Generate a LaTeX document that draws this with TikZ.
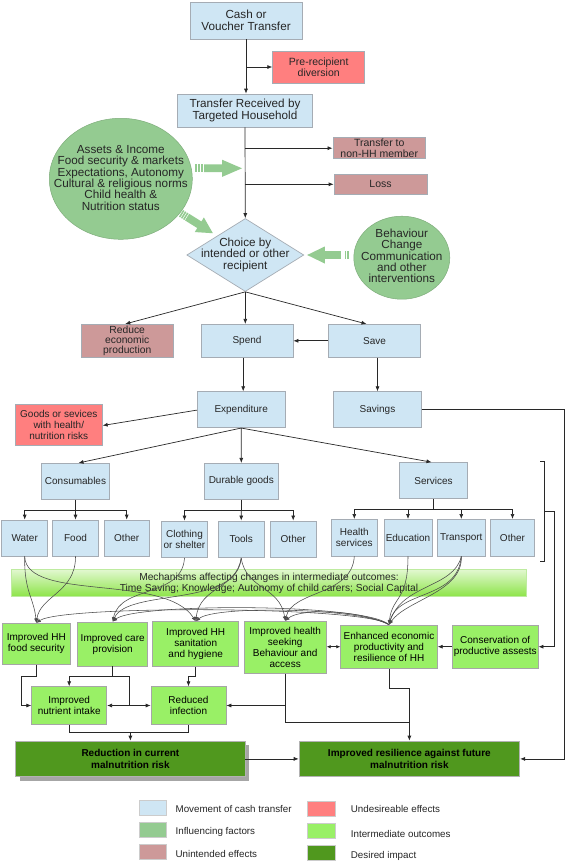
\documentclass[tikz,border=0pt]{standalone}
\usepackage{fontspec}
\setmainfont{Liberation Sans}
\usetikzlibrary{arrows.meta,shapes.geometric,shadows}
\definecolor{cblue}{RGB}{207,230,244}
\definecolor{cred}{RGB}{255,127,127}
\definecolor{cpink}{RGB}{205,153,153}
\definecolor{cinf}{RGB}{148,203,145}
\definecolor{cint}{RGB}{153,240,102}
\definecolor{cdes}{RGB}{80,152,30}
\definecolor{cbord}{RGB}{165,172,180}
\definecolor{cline}{RGB}{40,40,40}
\definecolor{ccurve}{RGB}{75,75,75}
\tikzset{
 bx/.style={draw=cbord, line width=0.7pt, inner sep=0pt, align=center, text=black!85},
 bluebox/.style={bx, fill=cblue},
 redbox/.style={bx, fill=cred},
 pinkbox/.style={bx, fill=cpink},
 outbox/.style={bx, fill=cint, draw=black!35, text=black},
 impbox/.style={bx, fill=cdes, draw=black!30, text=black, font=\fontsize{10}{11.6}\selectfont\bfseries},
 fbig/.style={font=\fontsize{11.7}{11.4}\selectfont},
 fmid/.style={font=\fontsize{10.5}{10.5}\selectfont},
 fsm/.style={font=\fontsize{10}{11}\selectfont},
 arr/.style={draw=cline, line width=0.7pt, -{Latex[length=5pt,width=4pt]}},
 ln/.style={draw=cline, line width=0.7pt},
 crv/.style={draw=ccurve, line width=0.55pt, -{Latex[length=4.5pt,width=3.6pt]}},
 dbl/.style={draw=cline, line width=0.7pt, {Latex[length=4pt,width=3.5pt]}-{Latex[length=4pt,width=3.5pt]}},
 swatch/.style={draw=black!20, line width=0.6pt, minimum width=27.5pt, minimum height=15pt, inner sep=0pt},
 lgtxt/.style={font=\fontsize{9.8}{11}\selectfont, anchor=west, inner sep=0pt, text=black!85},
}
\newcommand{\fatarrow}[5]{%
 \begin{scope}[shift={(#1,#2)}, rotate=#3, xscale=#5]
  \fill[cinf] (9,-3.9) -- (27,-3.9) -- (27,-8.6) -- (47,0) -- (27,8.6) -- (27,3.9) -- (9,3.9) -- cycle;
  \foreach \s in {1,...,#4} {\fill[cinf] ({3*\s-3},-3.9) rectangle ++(2,7.8);}
 \end{scope}}
\begin{document}
\begin{tikzpicture}[x=1pt,y=-1pt]
\fill[white] (0,0) rectangle (567,863);
\useasboundingbox (0,0) rectangle (567,863);

% top flow
\node[bluebox,fbig,minimum width=112pt,minimum height=37pt] (cash) at (246,20.5) {Cash or\\Voucher Transfer};
\node[redbox,fmid,minimum width=92pt,minimum height=32pt] (pre) at (318.7,67) {Pre-recipient\\diversion};
\node[bluebox,fbig,minimum width=134.6pt,minimum height=33pt] (recv) at (245,110.5) {Transfer Received by\\Targeted Household};
\node[pinkbox,fmid,minimum width=92.7pt,minimum height=21pt] (nonhh) at (379.3,148.2) {Transfer to\\non-HH member};
\node[pinkbox,fmid,minimum width=93pt,minimum height=19.3pt] (loss) at (380.5,184.3) {Loss};

\node[ellipse, fill=cinf, draw=cinf!85!black, line width=0.5pt, minimum width=143pt, minimum height=121pt, inner sep=0pt] (infl) at (120.8,178.8) {};
\node[fbig, align=center, text=black!85] (infltxt) at (120.8,177.8) {Assets \& Income\\Food security \& markets\\Expectations, Autonomy\\Cultural \& religious norms\\Child health \&\\Nutrition status};

\node[diamond, fill=cblue, draw=cbord, line width=0.7pt, minimum width=117pt, minimum height=73pt, inner sep=0pt] (choice) at (245.3,255) {};
\node[fbig, align=center, text=black!85] (choicetxt) at (245.3,254.7) {Choice by\\intended or other\\recipient};

\node[ellipse, fill=cinf, draw=cinf!85!black, line width=0.5pt, minimum width=96pt, minimum height=83pt, inner sep=0pt] (bcc) at (401.8,257.7) {};
\node[fbig, align=center, text=black!85] (bcctxt) at (401.8,256) {Behaviour\\Change\\Communication\\and other\\interventions};

\fatarrow{195}{168.3}{0}{3}{1}
\fatarrow{181}{213.3}{-32}{3}{0.8}
\fatarrow{349}{255}{180}{2}{0.89}

\node[pinkbox,font=\fontsize{10.3}{10}\selectfont,minimum width=92.3pt,minimum height=33pt] (reduce) at (127.2,340.8) {Reduce\\economic\\production};
\node[bluebox,fsm,minimum width=92pt,minimum height=33pt] (spend) at (247,340.8) {Spend};
\node[bluebox,fsm,minimum width=92.4pt,minimum height=33pt] (save) at (374.5,340.8) {Save};
\node[bluebox,fsm,minimum width=87.7pt,minimum height=36pt] (expend) at (241.2,409.7) {Expenditure};
\node[bluebox,fsm,minimum width=87.6pt,minimum height=36pt] (savings) at (377.5,409.7) {Savings};
\node[redbox,fsm,minimum width=87pt,minimum height=41pt] (goods) at (58.8,424.5) {Goods or sevices\\with health/\\nutrition risks};

\node[bluebox,fsm,minimum width=67.6pt,minimum height=36pt] (cons) at (75.5,481.3) {Consumables};
\node[bluebox,fsm,minimum width=74pt,minimum height=36pt] (dur) at (241.3,481.3) {Durable goods};
\node[bluebox,fsm,minimum width=67.6pt,minimum height=36pt] (serv) at (433.5,480.5) {Services};

\node[bluebox,fsm,minimum width=46pt,minimum height=36pt] (water) at (24.7,538) {Water};
\node[bluebox,fsm,minimum width=45.6pt,minimum height=36pt] (food) at (75.5,538) {Food};
\node[bluebox,fsm,minimum width=45.3pt,minimum height=36pt] (oth1) at (126.7,538) {Other};
\node[bluebox,fsm,minimum width=45.6pt,minimum height=36.7pt] (cloth) at (184.5,539.3) {Clothing\\or shelter};
\node[bluebox,fsm,minimum width=45.7pt,minimum height=36.7pt] (tools) at (241.2,539.3) {Tools};
\node[bluebox,fsm,minimum width=46.3pt,minimum height=36.7pt] (oth2) at (293.2,539.3) {Other};
\node[bluebox,fsm,minimum width=46pt,minimum height=36.7pt] (health) at (354.3,537.7) {Health\\services};
\node[bluebox,fsm,minimum width=48pt,minimum height=36.7pt] (edu) at (408,537.7) {Education};
\node[bluebox,fsm,minimum width=48pt,minimum height=36.7pt] (trans) at (461.3,537.7) {Transport};
\node[bluebox,fsm,minimum width=44.4pt,minimum height=36.7pt] (oth3) at (512.5,537.7) {Other};

% mechanisms band
\node[draw={rgb,255:red,190;green,235;blue,160}, line width=0.6pt, top color={rgb,255:red,226;green,248;blue,208}, bottom color={rgb,255:red,140;green,228;blue,72}, minimum width=514.6pt, minimum height=27.4pt, inner sep=0pt, align=center, text=black!85, font=\fontsize{10.2}{11}\selectfont] (mech) at (269,583) {Mechanisms affecting changes in intermediate outcomes:\\Time Saving; Knowledge; Autonomy of child carers; Social Capital};

% outcomes
\node[outbox,fsm,minimum width=67.3pt,minimum height=41pt] (fs) at (36.3,643.8) {Improved HH\\food security};
\node[outbox,fsm,minimum width=70pt,minimum height=44pt] (care) at (112.7,644) {Improved care\\provision};
\node[outbox,fsm,minimum width=86pt,minimum height=45pt] (san) at (195.7,644.2) {Improved HH\\sanitation\\and hygiene};
\node[outbox,fsm,minimum width=82.3pt,minimum height=52pt] (hsb) at (285.2,647.3) {Improved health\\seeking\\Behaviour and\\access};
\node[outbox,fsm,minimum width=96.6pt,minimum height=43.3pt] (enh) at (389,646.7) {Enhanced economic\\productivity and\\resilience of HH};
\node[outbox,fsm,minimum width=85.7pt,minimum height=43.3pt] (cons2) at (495.2,646.7) {Conservation of\\productive assests};
\node[outbox,fsm,minimum width=75pt,minimum height=37.6pt] (nut) at (69.2,705.5) {Improved\\nutrient intake};
\node[outbox,fsm,minimum width=75pt,minimum height=37.6pt] (inf) at (188.5,705.5) {Reduced\\infection};
\node[impbox,minimum width=229.3pt,minimum height=35.7pt, drop shadow={shadow xshift=4pt, shadow yshift=-4pt, fill=black!35, opacity=1}] (red) at (130.4,758.9) {Reduction in current\\malnutrition risk};
\node[impbox,minimum width=220.7pt,minimum height=35.7pt] (res) at (409.4,758.9) {Improved resilience against future\\malnutrition risk};

% legend
\node[swatch, fill=cblue] (lg1) at (153,807.5) {};
\node[lgtxt] (lt1) at (175.4,808.7) {Movement of cash transfer};
\node[swatch, fill=cinf] (lg2) at (153,830.2) {};
\node[lgtxt] (lt2) at (175.4,832) {Influencing factors};
\node[swatch, fill=cpink] (lg3) at (153,852.2) {};
\node[lgtxt] (lt3) at (175.4,854.3) {Unintended effects};
\node[swatch, fill=cred] (lg4) at (321.3,808.5) {};
\node[lgtxt] (lt4) at (350.7,809) {Undesireable effects};
\node[swatch, fill=cint] (lg5) at (321.3,830.8) {};
\node[lgtxt] (lt5) at (350.7,834) {Intermediate outcomes};
\node[swatch, fill=cdes] (lg6) at (321.3,853.2) {};
\node[lgtxt] (lt6) at (350.7,856) {Desired impact};

% connectors top
\draw[arr] (cash.south) -- (cash.south |- recv.north);
\draw[arr] (cash.south |- pre.west) -- (pre.west);
\draw[arr] (recv.south) -- (choice.north);
\draw[arr] (recv.south |- nonhh.west) -- (nonhh.west);
\draw[arr] (recv.south |- loss.west) -- (loss.west);
\draw[arr] (choice.south) -- ([xshift=-2pt]reduce.north);
\draw[arr] (choice.south) -- (choice.south |- spend.north);
\draw[arr] (choice.south) -- ([xshift=-8pt]save.north);
\draw[arr] (save.west) -- (spend.east);
\draw[arr] ([xshift=2pt]expend.north |- spend.south) -- ([xshift=2pt]expend.north);
\draw[arr] (savings.north |- save.south) -- (savings.north);
\draw[arr] ([yshift=-0.4pt]expend.west) -- ([yshift=-1pt]goods.east);
\draw[arr] (expend.south) -- ([xshift=3pt]cons.north);
\draw[arr] (expend.south) -- (dur.north);
\draw[arr] (expend.south) -- ([xshift=-2pt]serv.north);

% buses
\coordinate (cb) at (75.5,510);
\draw[ln] (cons.south) -- (cb);
\draw[arr] (cb) -| (water.north);
\draw[arr] (cb) -- (food.north);
\draw[arr] (cb) -| (oth1.north);
\coordinate (db) at (241.3,510.3);
\draw[ln] (dur.south) -- (db);
\draw[arr] (db) -| (cloth.north);
\draw[arr] (db) -- (tools.north);
\draw[arr] (db) -| (oth2.north);
\coordinate (sb) at (433.5,509.3);
\draw[ln] (serv.south) -- (sb);
\draw[arr] (sb) -| (health.north);
\draw[arr] (sb) -| (edu.north);
\draw[arr] (sb) -| (trans.north);
\draw[arr] (sb) -| (oth3.north);

% bracket and right side
\coordinate (bt0) at (540.3,461);
\coordinate (bt1) at (544.7,461);
\coordinate (bb1) at (544.7,561.7);
\coordinate (bb0) at (540.3,561.7);
\coordinate (bm) at (544.7,511);
\coordinate (bk) at (554.7,511);
\draw[ln] (bt0) -- (bt1) -- (bb1) -- (bb0);
\draw[arr] (bm) -- (bk) |- (cons2.east);
\coordinate (sv) at (564.7,409.7);
\draw[arr] (savings.east) -- (sv) |- (res.east);

% curves through mechanisms
\draw[crv] (water.south) .. controls (24,592) and (34,598) .. (fs.north);
\draw[crv] (food.south) .. controls (76,592) and (40,596) .. (fs.north);
\draw[crv] (water.south) .. controls (26,602) and (165,573) .. (san.north);
\draw[crv] (cloth.south) .. controls (182,598) and (120,585) .. (care.north);
\draw[crv] (tools.south) .. controls (236,590) and (200,586) .. (san.north);
\draw[crv] (tools.south) .. controls (237,608) and (128,588) .. (care.north);
\draw[crv] (tools.south) .. controls (246,590) and (280,586) .. (hsb.north);
\draw[crv] (health.south) .. controls (352,596) and (292,590) .. (hsb.north);
\draw[crv] (edu.south) .. controls (408,602) and (392,596) .. (enh.north);
\draw[crv] (trans.south) .. controls (458,600) and (398,590) .. (enh.north);
\draw[crv] (trans.south) .. controls (454,588) and (402,584) .. (enh.north);
\draw[crv] (trans.south) .. controls (463,592) and (406,600) .. (enh.north);
\draw[crv] (enh.north) .. controls (368,606) and (62,605) .. (fs.north);
\draw[crv] (enh.north) .. controls (366,603) and (135,603) .. (care.north);
\draw[crv] (enh.north) .. controls (362,608) and (215,605) .. (san.north);
\draw[crv] (enh.north) .. controls (360,610) and (300,608) .. (hsb.north);

% outcome connectors
\draw[arr] (cons2.west) -- (enh.east);
\draw[dbl] (hsb.east |- enh.west) -- (enh.west);
\coordinate (fj) at (21.7,676);
\draw[arr] (fs.south) |- (fj) |- (nut.west);
\coordinate (cj) at (112.7,676);
\coordinate (cm) at (129,705.5);
\draw[ln] (care.south) -- (cj);
\draw[arr] (cj) -| (nut.north);
\draw[ln] (cj) -| (cm);
\draw[arr] (cm) -- (nut.east);
\draw[arr] (cm) -- (inf.west);
\coordinate (sj) at (195.7,676);
\draw[ln] (san.south) -- (sj);
\draw[arr] (sj) -| (inf.north);
\coordinate (hj) at (285.2,722);
\coordinate (rj) at (409.4,722);
\draw[arr] (hsb.south) -- (hj) -- (rj) -- (res.north);
\draw[arr] (hsb.south |- inf.east) -- (inf.east);
\coordinate (ej) at (409.4,688.7);
\draw[ln] (enh.south) |- (ej) -- (rj);
\coordinate (nb) at (130.4,732.7);
\draw[ln] (nut.south) |- (nb) -| (inf.south);
\draw[arr] (nb) -- (red.north);
\draw[arr] (red.east) -- (res.west);
\end{tikzpicture}
\end{document}
